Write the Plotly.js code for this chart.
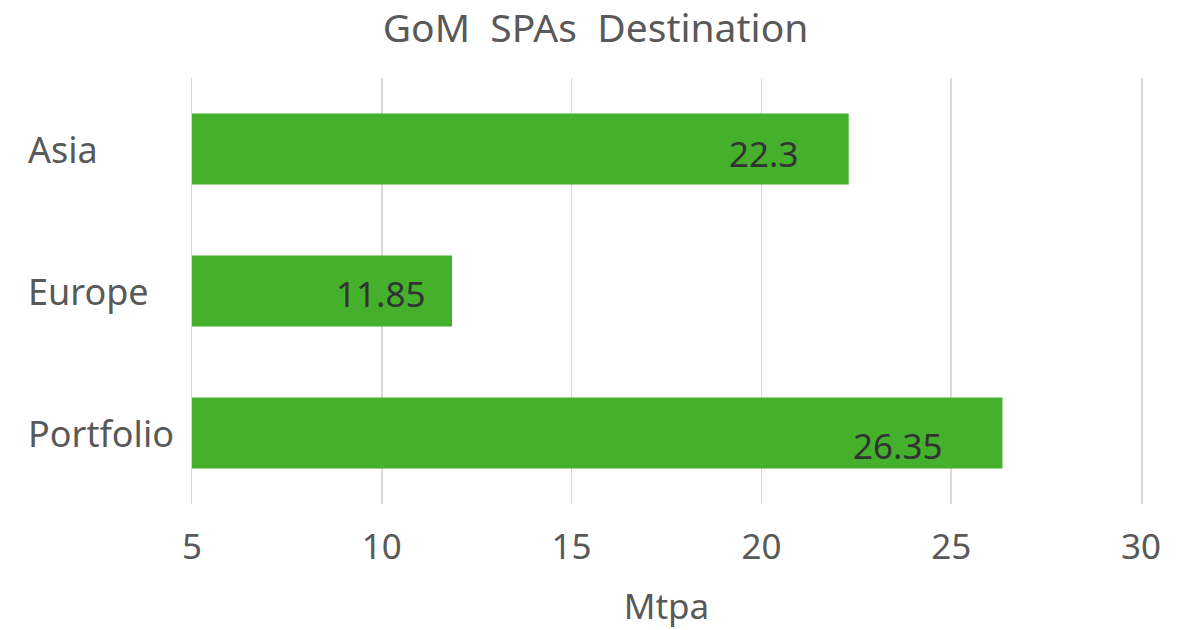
<!DOCTYPE html>
<html>
<head>
<meta charset="utf-8">
<script src="https://cdn.plot.ly/plotly-3.0.1.min.js"></script>
<style>html,body{margin:0;padding:0;background:#fff;}#chart{width:1191px;height:630px;}</style>
</head>
<body>
<div id="chart"></div>
<script>
// Data
const categories = ["Asia", "Europe", "Portfolio"];
const values = [22.3, 11.85, 26.35];
const xTicks = [5, 10, 15, 20, 25, 30];

// Styling
const FONT = "Noto Sans, Open Sans, sans-serif";
const GREY = "#595959";
const BAR = "#44B02C";
const GRID = "#d9d9d9";
const labelShift = [[-49, -4], [-25, -2], [-58, -12]];

const trace = {
  type: "bar",
  orientation: "h",
  y: categories,
  x: values,
  base: 0,
  marker: {color: BAR, line: {width: 0}},
  hoverinfo: "x+y"
};

const annotations = [];
categories.forEach((c, i) => {
  annotations.push({
    x: values[i], y: c, xref: "x", yref: "y",
    text: String(values[i]), showarrow: false,
    xanchor: "right", yanchor: "middle",
    xshift: labelShift[i][0], yshift: labelShift[i][1],
    font: {family: FONT, size: 35, color: "#333333"}
  });
  annotations.push({
    x: -0.175, y: c, xref: "paper", yref: "y",
    text: c, showarrow: false,
    xanchor: "left", yanchor: "middle",
    font: {family: FONT, size: 36, color: GREY}
  });
});

const layout = {
  width: 1191, height: 630,
  margin: {l: 192, r: 50, t: 78, b: 126},
  paper_bgcolor: "#ffffff", plot_bgcolor: "#ffffff",
  showlegend: false,
  bargap: 0.5,
  title: {
    text: "GoM  SPAs  Destination",
    font: {family: FONT, size: 39, color: GREY},
    x: 0.5, xref: "container", xanchor: "center",
    y: 0.955, yref: "container", yanchor: "middle"
  },
  xaxis: {
    range: [5, 30],
    tickvals: xTicks,
    ticktext: xTicks.map(String),
    showgrid: true, gridcolor: GRID, gridwidth: 1.5,
    zeroline: false, showline: false, ticks: "",
    tickfont: {family: FONT, size: 35, color: GREY},
    ticklabelstandoff: 19,
    title: {text: "Mtpa", font: {family: FONT, size: 35, color: GREY}, standoff: 26}
  },
  yaxis: {
    type: "category",
    autorange: "reversed",
    showticklabels: false,
    showgrid: false, zeroline: false,
    showline: true, mirror: true, linecolor: GRID, linewidth: 1.5,
    ticks: ""
  },
  annotations: annotations
};

Plotly.newPlot("chart", [trace], layout, {displayModeBar: false, staticPlot: true});
</script>
</body>
</html>
